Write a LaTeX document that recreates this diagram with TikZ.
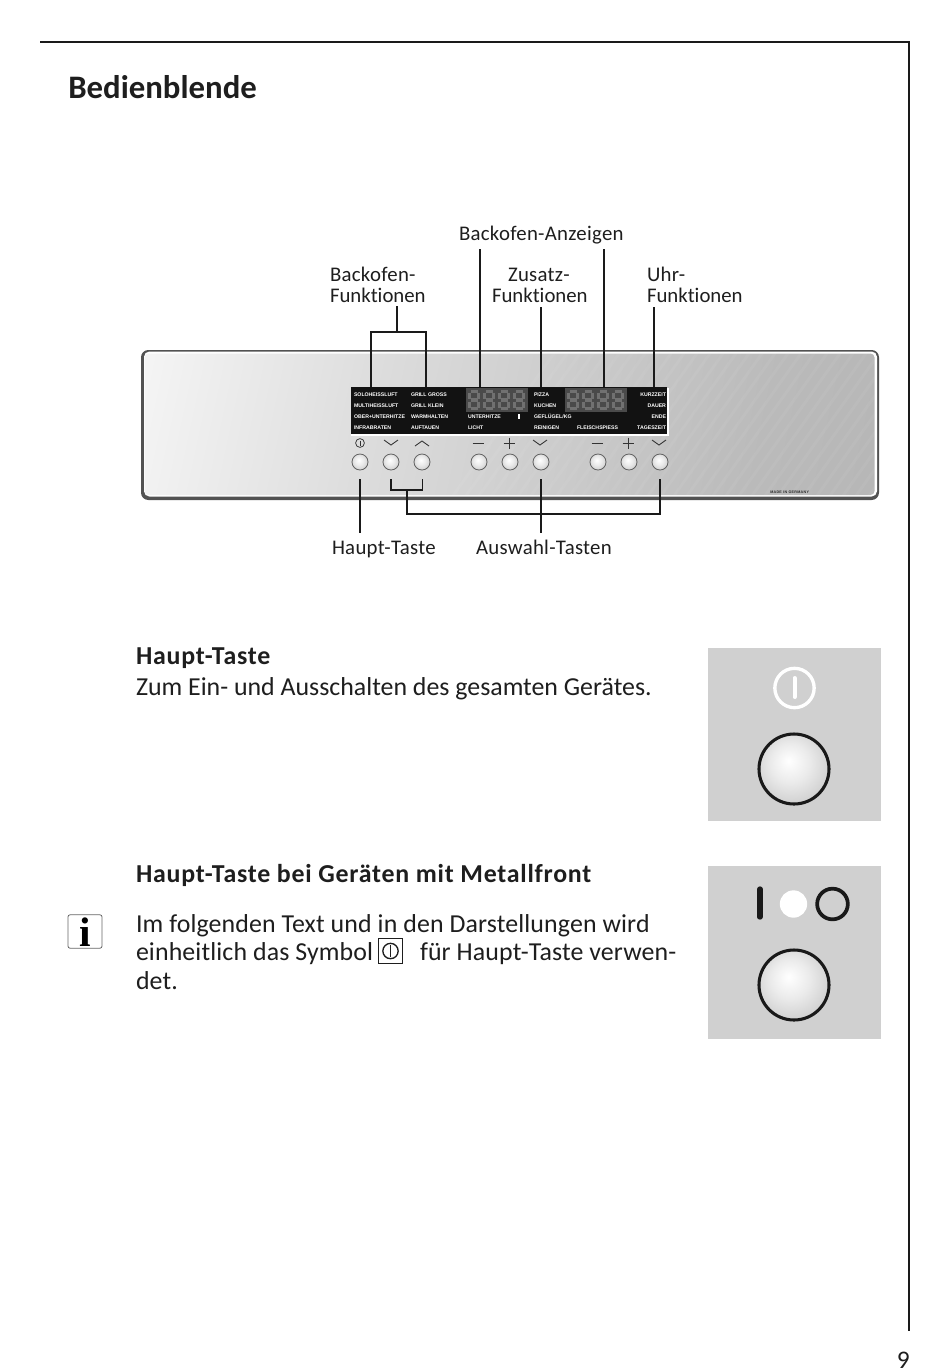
\documentclass[tikz,border=0pt]{standalone}
\usepackage{fontspec}
\setmainfont[Ligatures=NoCommon]{Carlito}
\newfontfamily\panelfont{Liberation Sans}
\usetikzlibrary{calc}
\definecolor{rule}{HTML}{1A1A1A}
\definecolor{tile}{HTML}{D0D0D0}
\definecolor{ink}{HTML}{1E1E1E}
\definecolor{segoff}{HTML}{717171}
\definecolor{ledbg}{HTML}{4A4A4A}
\pgfdeclarehorizontalshading{panelshade}{100bp}{color(0bp)=(white); color(16bp)=(black!2); color(40bp)=(black!14); color(70bp)=(black!27); color(100bp)=(black!31)}
\pgfdeclareradialshading{btnshade}{\pgfpoint{-4bp}{6bp}}{color(0bp)=(white); color(14bp)=(black!8); color(30bp)=(black!20); color(50bp)=(black!20)}
\tikzset{
  x=0.75pt,y=-0.75pt,
  body/.style={anchor=base west,inner sep=0pt,outer sep=0pt,text=ink,font=\fontsize{19.4pt}{22pt}\selectfont\addfontfeatures{LetterSpace=0.5}},
  bodytight/.style={anchor=base west,inner sep=0pt,outer sep=0pt,text=ink,font=\fontsize{19.4pt}{22pt}\selectfont},
  bodyb/.style={anchor=base west,inner sep=0pt,outer sep=0pt,text=ink,font=\fontsize{19.4pt}{22pt}\selectfont\bfseries\addfontfeatures{LetterSpace=3}},
  callout/.style={anchor=base west,inner sep=0pt,outer sep=0pt,text=ink,font=\fontsize{15.6pt}{18pt}\selectfont\addfontfeatures{LetterSpace=1.4}},
  callouttight/.style={anchor=base west,inner sep=0pt,outer sep=0pt,text=ink,font=\fontsize{15.6pt}{18pt}\selectfont},
  ptxt/.style={anchor=base west,inner sep=0pt,outer sep=0pt,text=white,font=\panelfont\fontsize{3.9pt}{4.5pt}\selectfont\bfseries},
  ptxtr/.style={ptxt,anchor=base east},
  smallbtn/.style={circle,draw=black!62,line width=0.6pt,minimum size=12pt,inner sep=0pt,shading=btnshade},
  bigbtn/.style={circle,draw=black!90,line width=2.3pt,minimum size=52.5pt,inner sep=0pt,shading=btnshade},
  leader/.style={draw=rule,line width=1pt},
  glyph/.style={draw=black!80,line width=0.65pt},
  seg/.style={draw=segoff,line width=2.3pt},
  tilebox/.style={fill=tile,draw=none,minimum size=130pt,inner sep=0pt}
}
\newcommand{\leddigit}[2]{%
  \draw[seg] (#1+2.5,#2+1)--(#1+9.5,#2+1) (#1+2.5,#2+9.5)--(#1+9.5,#2+9.5) (#1+2.5,#2+18)--(#1+9.5,#2+18)
    (#1+1.5,#2+2)--(#1+1.5,#2+8) (#1+10.5,#2+2)--(#1+10.5,#2+8) (#1+1.5,#2+11)--(#1+1.5,#2+17) (#1+10.5,#2+11)--(#1+10.5,#2+17);}
\newcommand{\chevdown}[1]{\draw[glyph] (#1-7,440)--(#1,445)--(#1+7,440);}
\newcommand{\chevup}[1]{\draw[glyph] (#1-7,446)--(#1,441)--(#1+7,446);}
\newcommand{\minussym}[1]{\draw[glyph] (#1-5.5,443)--(#1+5.5,443);}
\newcommand{\plussym}[1]{\draw[glyph] (#1-5.5,443)--(#1+5.5,443) (#1,437.5)--(#1,448.5);}
\begin{document}
\begin{tikzpicture}
\useasboundingbox (0,0) rectangle (950,1372);
\fill[white] (0,0) rectangle (950,1372);
% page frame
\coordinate (frameA) at (40,42);
\coordinate (frameB) at (909,42);
\coordinate (frameC) at (909,1331);
\draw[rule,line width=0.95pt] (frameA)--(frameB)--(frameC);
\node[anchor=base east,inner sep=0pt,text=ink,font=\fontsize{19pt}{20pt}\selectfont] (pageno) at (910,1368) {9};
\node[anchor=base west,inner sep=0pt,text=ink,font=\fontsize{24.6pt}{28pt}\selectfont\bfseries] (title) at (68,98) {Bedienblende};

% panel
\fill[black!68,rounded corners=5.5pt] (141,350) rectangle (879,500);
\fill[white,rounded corners=4pt] (144,351.5) rectangle (877,496.5);
\path[rounded corners=3pt,shading=panelshade,shading angle=-12] (144.5,353.5) rectangle (874.5,495);
\begin{scope}
\clip[rounded corners=3pt] (144.5,353.5) rectangle (874.5,495);
\foreach \k in {0,...,56}{
  \draw[white,opacity=0.05,line width=2.2pt] (450+\k*13,500)--++(110,-155);
}
\end{scope}

% black display strip
\fill[white] (351,388) rectangle (669,435.5);
\fill[black!93] (350.5,387) rectangle (667,433.5);
\fill[ledbg] (466,388) rectangle (528,412);
\fill[ledbg] (565,388) rectangle (627,412);
\foreach \p in {468,483,498,513,567,582,597,612}{\leddigit{\p}{390.5}}
\fill[white] (518,413.5) rectangle (520,419);

\node[ptxt] (t1) at (354,396) {SOLOHEISSLUFT};
\node[ptxt] (t2) at (354,407) {MULTIHEISSLUFT};
\node[ptxt] (t3) at (354,418) {OBER+UNTERHITZE};
\node[ptxt] (t4) at (354,429.5) {INFRABRATEN};
\node[ptxt] (t5) at (411,396) {GRILL GROSS};
\node[ptxt] (t6) at (411,407) {GRILL KLEIN};
\node[ptxt] (t7) at (411,418) {WARMHALTEN};
\node[ptxt] (t8) at (411,429.5) {AUFTAUEN};
\node[ptxt] (t9) at (468,418) {UNTERHITZE};
\node[ptxt] (t10) at (468,429.5) {LICHT};
\node[ptxt] (t11) at (534,396) {PIZZA};
\node[ptxt] (t12) at (534,407) {KUCHEN};
\node[ptxt] (t13) at (534,418) {GEFLÜGEL/KG};
\node[ptxt] (t14) at (534,429.5) {REINIGEN};
\node[ptxt] (t15) at (577,429.5) {FLEISCHSPIESS};
\node[ptxtr] (t16) at (666,396) {KURZZEIT};
\node[ptxtr] (t17) at (666,407) {DAUER};
\node[ptxtr] (t18) at (666,418) {ENDE};
\node[ptxtr] (t19) at (666,429.5) {TAGESZEIT};

% panel symbols
\node[circle,draw=black!80,line width=0.55pt,minimum size=6.6pt,inner sep=0pt] (pwr) at (360,443) {};
\draw[glyph] (360,440.5)--(360,445.5);
\chevdown{391}\chevup{422}\minussym{478}\plussym{509}\chevdown{540}\minussym{597}\plussym{628}\chevdown{659}

% panel buttons
\foreach \n/\x in {b1/360,b2/391,b3/422,b4/479,b5/510,b6/541,b7/598,b8/629,b9/660}{
  \node[smallbtn] (\n) at (\x,462) {};
}
\node[anchor=base west,inner sep=0pt,text=black!85,font=\panelfont\fontsize{2.75pt}{3pt}\selectfont\bfseries\addfontfeatures{LetterSpace=8}] (made) at (770,493.5) {MADE IN GERMANY};

% callout labels
\node[callout] (lAnz) at (459,240) {Backofen-Anzeigen};
\node[callout] (lBo) at (330,281) {Backofen-};
\node[callouttight] (lBf) at (330,302) {Funktionen};
\node[callout] (lZu) at (508,281) {Zusatz-};
\node[callouttight] (lZf) at (492,302) {Funktionen};
\node[callout] (lUh) at (647,281) {Uhr-};
\node[callouttight] (lUf) at (647,302) {Funktionen};
\node[callout] (lHt) at (332,554) {Haupt-Taste};
\node[callout] (lAt) at (476,554) {Auswahl-Tasten};

% leaders above
\coordinate (upA) at (397,306);
\coordinate (upB) at (397,332);
\coordinate (upL) at (371,332);
\coordinate (upR) at (426,332);
\coordinate (dnL) at (371,387);
\coordinate (dnR) at (426,387);
\draw[leader] (upA)--(upB) (dnL)--(upL)--(upR)--(dnR);
\coordinate (a1t) at (480,249); \coordinate (a1b) at (480,387);
\coordinate (a2t) at (604,249); \coordinate (a2b) at (604,387);
\coordinate (a3t) at (541,307); \coordinate (a3b) at (541,387);
\coordinate (a4t) at (654,307); \coordinate (a4b) at (654,387);
\draw[leader] (a1t)--(a1b) (a2t)--(a2b) (a3t)--(a3b) (a4t)--(a4b);
% leaders below
\coordinate (hTop) at (360,479); \coordinate (hBot) at (360,533);
\coordinate (auTop) at (541,479); \coordinate (auBot) at (541,533);
\draw[leader] (hTop)--(hBot) (auTop)--(auBot);
\coordinate (brA) at (391,479); \coordinate (brB) at (391,490);
\coordinate (brC) at (422.5,490); \coordinate (brD) at (422.5,479);
\coordinate (brE) at (407,490); \coordinate (brF) at (407,514);
\coordinate (brG) at (660,514); \coordinate (brH) at (660,479);
\draw[leader] (brA)--(brB)--(brC)--(brD) (brE)--(brF)--(brG)--(brH);

% body text
\node[bodyb] (h1) at (136,664) {Haupt-Taste};
\node[bodytight] (p1) at (136,695) {Zum Ein- und Ausschalten des gesamten Gerätes.};
\node[bodyb] (h2) at (136,882) {Haupt-Taste bei Geräten mit Metallfront};
\node[body] (p2) at (136,932) {Im folgenden Text und in den Darstellungen wird};
\node[body] (p3) at (136,960) {einheitlich das Symbol};
\node[body] (p4) at (420,960) {für Haupt-Taste verwen-};
\node[body] (p5) at (136,989) {det.};

% info box
\node[draw=black!60,line width=0.6pt,rounded corners=1.5pt,minimum width=25.5pt,minimum height=25pt,inner sep=0pt] (ibox) at (85,931.5) {};
\node[inner sep=0pt,text=black,font=\fontsize{31pt}{31pt}\selectfont] (ichar) at (85,932) {\fontspec{Liberation Serif}\bfseries i};
% inline symbol
\node[draw=ink,line width=0.6pt,minimum width=18.5pt,minimum height=18.5pt,inner sep=0pt] (sbox) at (390.5,951) {};
\node[circle,draw=ink,line width=1pt,minimum size=11.5pt,inner sep=0pt] (scirc) at (390.5,951) {};
\draw[ink,line width=1.1pt] (390.5,945)--(390.5,957);

% tile 1
\node[tilebox] (tileA) at (794.5,734.5) {};
\node[circle,draw=white,line width=2.5pt,minimum size=29.5pt,inner sep=0pt] (pA) at (794.5,688) {};
\draw[white,line width=3pt,line cap=round] (794.5,678)--(794.5,697);
\node[bigbtn] (btnA) at (794,769) {};
% tile 2
\node[tilebox] (tileB) at (794.5,952.5) {};
\draw[black!90,line width=4pt,line cap=round] (760,889)--(760,917);
\node[circle,fill=white,minimum size=20.5pt,inner sep=0pt] (dotB) at (793.5,904) {};
\node[circle,draw=black!90,line width=2.8pt,minimum size=23pt,inner sep=0pt] (ringB) at (832.5,904) {};
\node[bigbtn] (btnB) at (794,985) {};
\end{tikzpicture}
\end{document}
